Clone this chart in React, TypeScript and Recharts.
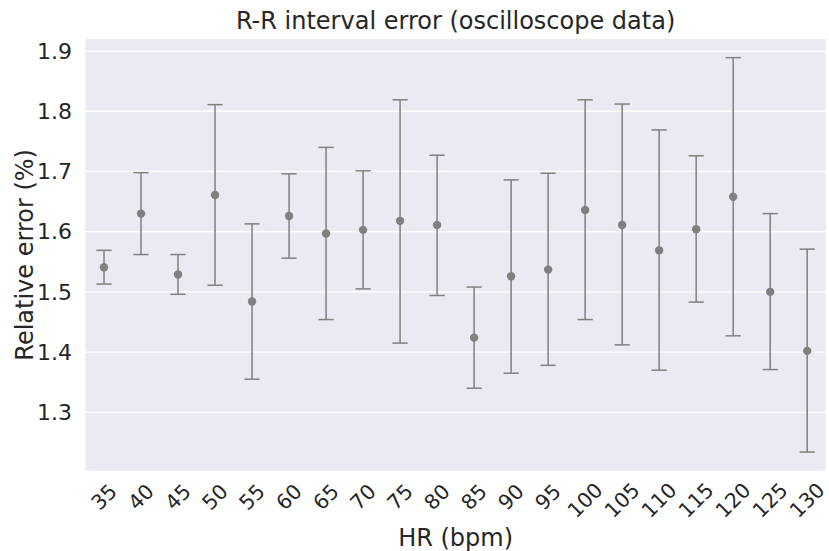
import React from 'react';
import { ComposedChart, Scatter, XAxis, YAxis, CartesianGrid, ErrorBar } from 'recharts';

const hrLabels = ['35','40','45','50','55','60','65','70','75','80','85','90','95','100','105','110','115','120','125','130'];
const meanError = [1.541,1.630,1.529,1.661,1.484,1.626,1.597,1.603,1.618,1.611,1.424,1.526,1.537,1.636,1.611,1.569,1.604,1.658,1.500,1.402];
const lowerBound = [1.513,1.562,1.496,1.511,1.355,1.556,1.454,1.505,1.415,1.494,1.340,1.365,1.378,1.454,1.412,1.370,1.483,1.427,1.371,1.234];
const upperBound = [1.569,1.698,1.562,1.811,1.613,1.696,1.740,1.701,1.819,1.727,1.508,1.686,1.697,1.819,1.812,1.769,1.726,1.889,1.630,1.571];
const yTicks = [1.3,1.4,1.5,1.6,1.7,1.8,1.9];

const data = hrLabels.map((hr, i) => ({
  hr,
  mean: meanError[i],
  err: [meanError[i] - lowerBound[i], upperBound[i] - meanError[i]],
}));

const TEXT = '#262626';
const FONT = '"DejaVu Sans", Verdana, sans-serif';
const GRAY = '#808080';

const XTick = (props: any) => {
  const { x, y, payload } = props;
  const s = String(payload.value);
  const cy = y + 20 + 3.2 * s.length;
  return (
    <text x={x} y={cy} transform={`rotate(-45, ${x}, ${cy})`} textAnchor="middle" dominantBaseline="central"
      fill={TEXT} fontSize={20.5} fontFamily={FONT}>{s}</text>
  );
};

const Dot = (props: any) => <circle cx={props.cx} cy={props.cy} r={4.2} fill={GRAY} />;

export default function App() {
  return (
    <div style={{ position: 'absolute', left: 0, top: 0, width: 829, height: 551, background: '#fff' }}>
      <ComposedChart width={829} height={551} data={data} margin={{ top: 39, right: 3.3, bottom: 0, left: 0 }}>
        <CartesianGrid fill="#EAEAF2" stroke="#ffffff" strokeWidth={1.3} vertical={false} horizontalValues={yTicks} />
        <XAxis dataKey="hr" type="category" scale="band" axisLine={false} tickLine={false} tickSize={0} tickMargin={0}
          height={80.3} interval={0} tick={<XTick />}
          label={{ value: 'HR (bpm)', position: 'insideBottom', offset: 5.5, fill: TEXT, fontSize: 24, fontFamily: FONT }} />
        <YAxis type="number" domain={[1.203, 1.92]} ticks={yTicks} width={85.5} axisLine={false} tickLine={false}
          tickSize={0} tickMargin={13.5} allowDataOverflow
          tick={{ fill: TEXT, fontSize: 22, fontFamily: FONT }}
          label={{ value: 'Relative error (%)', angle: -90, position: 'insideLeft', offset: 24, fill: TEXT, fontSize: 24, fontFamily: FONT, style: { textAnchor: 'middle' } }} />
        <Scatter dataKey="mean" isAnimationActive={false} shape={<Dot />}>
          <ErrorBar dataKey="err" direction="y" width={7.6} stroke={GRAY} strokeWidth={1.5} isAnimationActive={false} />
        </Scatter>
        <text x={455.6} y={29} textAnchor="middle" fill={TEXT} fontSize={24} fontFamily={FONT}>R-R interval error (oscilloscope data)</text>
      </ComposedChart>
    </div>
  );
}
